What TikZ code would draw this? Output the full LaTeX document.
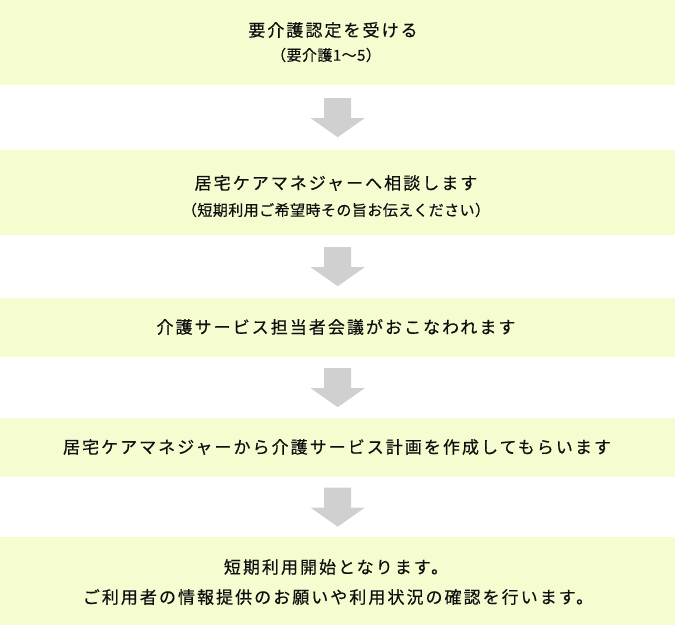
\documentclass[tikz,border=0pt]{standalone}
\usepackage{fontspec}
\newfontfamily\jpmain[LetterSpace=12, FakeBold=0.4]{Noto Sans CJK JP}
\newfontfamily\jpsub[LetterSpace=3, FakeBold=0.4]{Noto Sans CJK JP}
\usetikzlibrary{calc}
\definecolor{boxfill}{RGB}{245,253,208}
\definecolor{arrowgray}{RGB}{208,208,208}
\definecolor{txt}{RGB}{15,15,15}
\begin{document}
\begin{tikzpicture}[x=1pt,y=-1pt,
  box/.style={fill=boxfill, draw=none, minimum width=675pt, inner sep=0pt, anchor=north west},
  maintext/.style={text=txt, inner sep=0pt, font=\jpmain\fontsize{17pt}{20pt}\selectfont},
  subtext/.style={text=txt, inner sep=0pt, font=\jpsub\fontsize{15pt}{18pt}\selectfont},
  flowarrow/.style={fill=arrowgray, draw=none}]
\useasboundingbox (0,0) rectangle (675,625);
% boxes
\node[box, minimum height=85pt] (b1) at (0,0) {};
\node[box, minimum height=85pt] (b2) at (0,150) {};
\node[box, minimum height=59pt] (b3) at (0,298) {};
\node[box, minimum height=59pt] (b4) at (0,418) {};
\node[box, minimum height=88pt] (b5) at (0,537) {};
% texts
\node[maintext] (t1a) at (333,30) {要介護認定を受ける};
\node[subtext] (t1b) at (326,55) {（要介護1～5）};
\node[maintext] (t2a) at (336,183) {居宅ケアマネジャーへ相談します};
\node[subtext] (t2b) at (336,210) {（短期利用ご希望時その旨お伝えください）};
\node[maintext] (t3) at (336,327) {介護サービス担当者会議がおこなわれます};
\node[maintext] (t4) at (337,447) {居宅ケアマネジャーから介護サービス計画を作成してもらいます};
\node[maintext] (t5a) at (336,567) {短期利用開始となります。};
\node[maintext] (t5b) at (338,597) {ご利用者の情報提供のお願いや利用状況の確認を行います。};
% arrows
\foreach \a/\b/\m in {b1/b2/m1, b2/b3/m2, b3/b4/m3, b4/b5/m4}{
  \coordinate (\m) at ($(\a.south)!0.5!(\b.north)$);
  \fill[flowarrow] ([shift={(-13.5,-19.5)}]\m) -- ([shift={(13.5,-19.5)}]\m)
    -- ([shift={(13.5,0.5)}]\m) -- ([shift={(27,0.5)}]\m)
    -- ([shift={(0,19.5)}]\m) -- ([shift={(-27,0.5)}]\m)
    -- ([shift={(-13.5,0.5)}]\m) -- cycle;
}
\end{tikzpicture}
\end{document}
